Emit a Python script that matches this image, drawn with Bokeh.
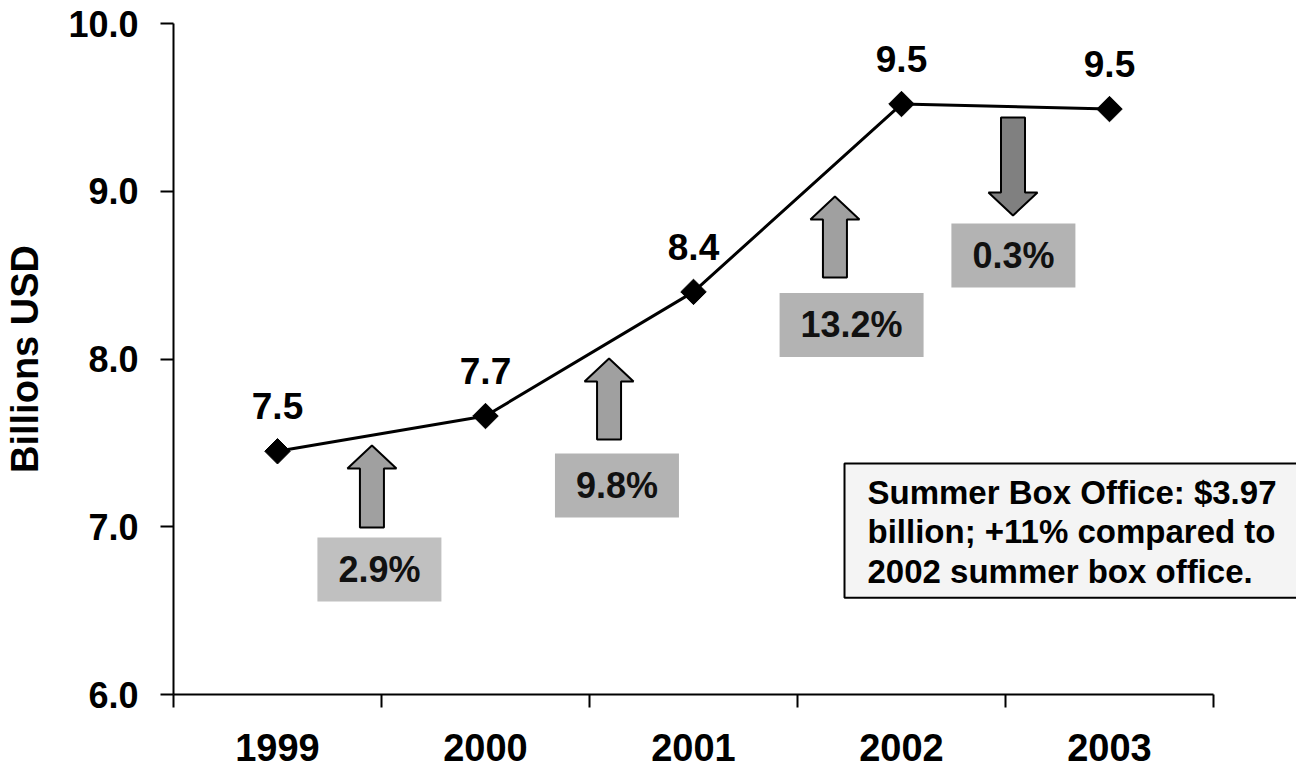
import math
from bokeh.plotting import figure
from bokeh.models import Range1d, FixedTicker, PrintfTickFormatter, Label
from bokeh.embed import file_html
from bokeh.resources import INLINE
from bokeh.core.properties import value

# ---------------- data ----------------
years = ["1999", "2000", "2001", "2002", "2003"]
revenue = [7.45, 7.66, 8.40, 9.52, 9.49]          # billions USD
growth = [2.9, 9.8, 13.2, -0.3]                   # % change year over year
y_ticks = [6, 7, 8, 9, 10]
note_lines = ["Summer Box Office: $3.97",
              "billion; +11% compared to",
              "2002 summer box office."]

# ---------------- annotation layout (data coords) ----------------
arrow_x = [0.954, 2.094, 3.180, 4.036]
arrow_tail = [6.996, 7.520, 8.486, 9.440]
arrow_tip = [7.484, 8.003, 8.969, 8.855]
box_x = [0.990, 2.132, 3.260, 4.038]
box_y = [6.745, 7.246, 8.203, 8.617]
box_colors = ["#c0c0c0", "#b3b3b3", "#b3b3b3", "#b3b3b3"]
note_x, note_y = 3.226, 7.377

FONT = "Liberation Sans"
W, H = 1296, 768
BL, BR, BT, BB = 173, 0, 23, 74
CAT_PX = 208                       # pixel width of one year category
FW, FH = W - BL - BR, H - BT - BB
X0, Y0, Y1 = 0, 6, 10
X1 = FW / CAT_PX                   # frame runs to the right edge (for the note box)
PX = CAT_PX
PY = FH / (Y1 - Y0)

p = figure(width=W, height=H, x_range=Range1d(X0, X1), y_range=Range1d(Y0, Y1),
           output_backend="svg", toolbar_location=None,
           min_border_left=BL, min_border_right=BR, min_border_top=BT, min_border_bottom=BB)
p.grid.visible = False
p.outline_line_color = None
p.background_fill_color = "white"

# x axis: labels at category centres, ticks at boundaries
centers = [i + 0.5 for i in range(len(years))]
xa = p.xaxis[0]
xa.bounds = (0, len(years))
xa.ticker = FixedTicker(ticks=centers, minor_ticks=list(range(len(years) + 1)))
xa.major_label_overrides = {c: y for c, y in zip(centers, years)}
xa.major_tick_out = 0
xa.major_tick_in = 0
xa.minor_tick_out = 13
xa.minor_tick_in = 0
xa.minor_tick_line_color = "black"
xa.minor_tick_line_width = 2
xa.axis_line_color = "black"
xa.axis_line_width = 2
xa.major_label_text_font = FONT
xa.major_label_text_font_size = "38px"
xa.major_label_text_font_style = "bold"
xa.major_label_text_color = "black"
xa.major_label_standoff = 26

ya = p.yaxis[0]
ya.ticker = FixedTicker(ticks=y_ticks, minor_ticks=[])
ya.formatter = PrintfTickFormatter(format="%.1f")
ya.major_tick_out = 13
ya.major_tick_in = 0
ya.major_tick_line_color = "black"
ya.major_tick_line_width = 2
ya.axis_line_color = "black"
ya.axis_line_width = 2
ya.major_label_text_font = FONT
ya.major_label_text_font_size = "36px"
ya.major_label_text_font_style = "bold"
ya.major_label_text_color = "black"
ya.major_label_standoff = 22
ya.axis_label = "Billions USD"
ya.axis_label_text_font = FONT
ya.axis_label_text_font_size = "38px"
ya.axis_label_text_font_style = "bold"
ya.axis_label_text_color = "black"
ya.axis_label_standoff = 19

# line + diamonds
p.line(centers, revenue, line_width=3, line_color="black")
p.scatter(centers, revenue, marker="square", size=18, angle=math.pi / 4,
          fill_color="black", line_color="black")
p.text(x=centers, y=revenue, text=[f"{v:.1f}" for v in revenue],
       text_align="center", text_baseline="alphabetic", y_offset=-45,
       text_font=value(FONT), text_font_size="37px", text_font_style="bold",
       text_color="black")

# arrows
HEAD, HW, SW = 23, 24.5, 12
xs, ys, fills = [], [], []
for ax, tail, tip, g in zip(arrow_x, arrow_tail, arrow_tip, growth):
    d = 1 if tip > tail else -1
    base = tip - d * HEAD / PY
    hw, sw = HW / PX, SW / PX
    xs.append([ax, ax + hw, ax + sw, ax + sw, ax - sw, ax - sw, ax - hw])
    ys.append([tip, base, base, tail, tail, base, base])
    fills.append("#a0a0a0" if g >= 0 else "#808080")
p.patches(xs, ys, fill_color=fills, line_color="black", line_width=2)

# percentage boxes
glabels = [f"{abs(g):.1f}%" for g in growth]
p.rect(x=box_x, y=box_y, width=[20 * len(t) + 44 for t in glabels], height=64,
       width_units="screen", height_units="screen",
       fill_color=box_colors, line_color=None)
p.text(x=box_x, y=box_y, text=glabels, text_align="center", text_baseline="middle",
       text_font=value(FONT), text_font_size="36px", text_font_style="bold",
       text_color="#111111")

# note box
note = Label(x=note_x, y=note_y, x_units="data", y_units="data", anchor="top_left",
             text="\n".join(note_lines), text_font=FONT, text_font_size="33px",
             text_font_style="bold", text_color="black", text_line_height=1.07,
             background_fill_color="#f4f4f4", border_line_color="black",
             border_line_width=2,
             padding=dict(left=23, right=23, top=10, bottom=8))
p.add_layout(note)

open("out.html", "w").write(file_html(p, INLINE))
